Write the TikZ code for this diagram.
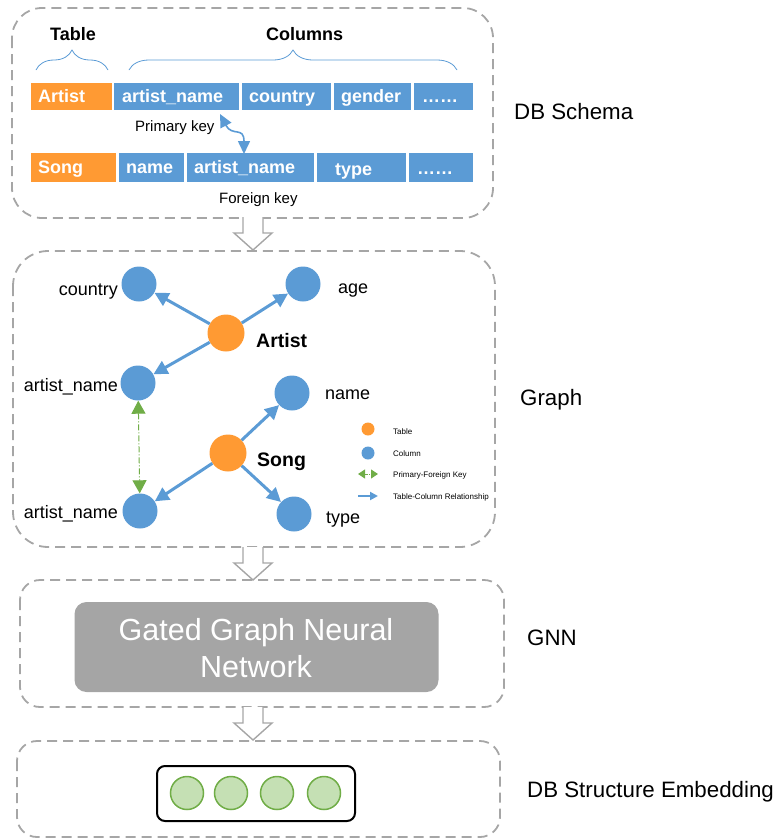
\documentclass[tikz,border=0pt]{standalone}
\usepackage{fontspec}
\setmainfont{Liberation Sans}
\usetikzlibrary{arrows.meta,decorations.pathreplacing}

\definecolor{cblue}{HTML}{5B9BD5}
\definecolor{corange}{HTML}{FF9A33}
\definecolor{cgreen}{HTML}{70AD47}
\definecolor{cgreenfill}{HTML}{C5E0B4}
\definecolor{cdash}{HTML}{A6A6A6}
\definecolor{cgnn}{HTML}{A5A5A5}

\tikzset{
  panel/.style={draw=cdash, line width=1.8pt, dash pattern=on 10pt off 6pt},
  tcell/.style={rectangle, fill=corange, inner sep=0pt},
  ccell/.style={rectangle, fill=cblue, inner sep=0pt},
  celltext/.style={text=white, font=\fontsize{18}{20}\selectfont\bfseries, inner sep=0pt, anchor=base west},
  hdr/.style={font=\fontsize{18}{20}\selectfont\bfseries, inner sep=0pt, anchor=base west},
  keytext/.style={font=\fontsize{15}{17}\selectfont, inner sep=0pt, anchor=base west},
  stage/.style={font=\fontsize{22.3}{25}\selectfont, inner sep=0pt, anchor=base west},
  colnode/.style={circle, fill=cblue, minimum size=35pt, inner sep=0pt},
  tabnode/.style={circle, fill=corange, minimum size=37pt, inner sep=0pt},
  gtext/.style={font=\fontsize{18}{20}\selectfont, inner sep=0pt},
  gbold/.style={font=\fontsize{19.5}{22}\selectfont\bfseries, inner sep=0pt, anchor=base west},
  relarrow/.style={draw=cblue, line width=3pt, -{Triangle[length=14pt,width=14pt]}},
  pfarrow/.style={draw=cgreen, line width=1pt, dash pattern=on 6pt off 2pt on 1pt off 2pt,
    {Triangle[length=13pt,width=14pt]}-{Triangle[length=13pt,width=14pt]}},
  legtext/.style={font=\fontsize{8}{9}\selectfont, inner sep=0pt, anchor=base west},
  brace/.style={draw=cblue, line width=0.8pt, decorate, decoration={brace, amplitude=20pt}},
  hollowarrow/.pic={
    \draw[cdash, line width=1.4pt, fill=white]
      (-10,0) -- (-10,16) -- (-19,16) -- (0,33) -- (19,16) -- (10,16) -- (10,0);
  },
  embcircle/.style={circle, draw=cgreen, line width=1.5pt, fill=cgreenfill, minimum size=33pt, inner sep=0pt}
}

\begin{document}
\begin{tikzpicture}[x=1pt, y=-1pt]
\useasboundingbox (0,0) rectangle (778,839);

% ---------- panels ----------
\draw[panel, rounded corners=30pt] (12,8) rectangle (493,218);
\draw[panel, rounded corners=35pt] (13,251) rectangle (495,547);
\draw[panel, rounded corners=20pt] (20,580) rectangle (504,707);
\draw[panel, rounded corners=20pt] (17,741) rectangle (500,837);

% ---------- hollow arrows between panels ----------
\pic at (253,217) {hollowarrow};
\pic at (253,547) {hollowarrow};
\pic at (253,707) {hollowarrow};

% ---------- stage labels ----------
\node[stage] (lschema) at (514,119) {DB Schema};
\node[stage] (lgraph) at (520,405) {Graph};
\node[stage] (lgnn) at (527,645) {GNN};
\node[stage] (lemb) at (527,797) {DB Structure Embedding};

% ---------- DB schema ----------
\node[hdr] (htable) at (50,40) {Table};
\node[hdr] (hcols) at (266,40) {Columns};
\draw[brace] (36,70) -- (108,70);
\draw[brace] (129,70) -- (457,70);

% Artist row
\node[tcell, minimum width=81pt, minimum height=27pt] (a0) at (71.5,96.5) {};
\node[ccell, minimum width=125pt, minimum height=27pt] (a1) at (176.5,96.5) {};
\node[ccell, minimum width=89pt, minimum height=27pt] (a2) at (286.5,96.5) {};
\node[ccell, minimum width=77pt, minimum height=27pt] (a3) at (372.5,96.5) {};
\node[ccell, minimum width=59pt, minimum height=27pt] (a4) at (443.5,96.5) {};
\node[celltext] at (38,102) {Artist};
\node[celltext] at (122,102) {artist\_name};
\node[celltext] at (249,102) {country};
\node[celltext] at (341,102) {gender};
\node[celltext] at (422,102) {……};

% Song row
\node[tcell, minimum width=85pt, minimum height=29pt] (s0) at (73.5,167.5) {};
\node[ccell, minimum width=65pt, minimum height=29pt] (s1) at (151.5,167.5) {};
\node[ccell, minimum width=127pt, minimum height=29pt] (s2) at (250.5,167.5) {};
\node[ccell, minimum width=89pt, minimum height=29pt] (s3) at (361.5,167.5) {};
\node[ccell, minimum width=64pt, minimum height=29pt] (s4) at (441,167.5) {};
\node[celltext] at (38,173) {Song};
\node[celltext] at (126,173) {name};
\node[celltext] at (194,173) {artist\_name};
\node[celltext] at (335,175) {type};
\node[celltext] at (417,174) {……};

\node[keytext] (pk) at (135,131) {Primary key};
\node[keytext] (fk) at (219,203) {Foreign key};
\coordinate (pka) at (220,114);
\coordinate (pkb) at (244,154);
\draw[cblue, line width=1.6pt, {Triangle[length=13pt,width=12pt]}-{Triangle[length=13pt,width=12pt]}]
  (pka) .. controls (232,137) and (244,126) .. (pkb);

% ---------- graph ----------
\node[colnode] (country) at (139,284) {};
\node[colnode] (age) at (303,284) {};
\node[tabnode] (artist) at (226,333) {};
\node[colnode] (aname) at (138,383) {};
\node[colnode] (name) at (292,393) {};
\node[tabnode] (song) at (228,453) {};
\node[colnode] (sname) at (140,511) {};
\node[colnode] (type) at (294,514) {};

\node[gtext, anchor=base east] at (118,295) {country};
\node[gtext, anchor=base west] at (338,293) {age};
\node[gtext, anchor=base east] at (118,391) {artist\_name};
\node[gtext, anchor=base west] at (325,399) {name};
\node[gtext, anchor=base east] at (118,518) {artist\_name};
\node[gtext, anchor=base west] at (326,523) {type};
\node[gbold] at (256,347) {Artist};
\node[gbold] at (257,466) {Song};

\draw[relarrow] (artist) -- (country);
\draw[relarrow] (artist) -- (age);
\draw[relarrow] (artist) -- (aname);
\draw[relarrow] (song) -- (name);
\draw[relarrow] (song) -- (sname);
\draw[relarrow] (song) -- (type);
\draw[pfarrow] (aname) -- (sname);

% legend
\node[circle, fill=corange, minimum size=13pt, inner sep=0pt] (legt) at (368,429) {};
\node[circle, fill=cblue, minimum size=13pt, inner sep=0pt] (legc) at (368,453) {};
\coordinate (legpa) at (358,474);
\coordinate (legpb) at (378,474);
\coordinate (legra) at (358,496);
\coordinate (legrb) at (378,496);
\draw[cgreen, line width=1pt, dash pattern=on 3pt off 1pt on 1pt off 1pt,
  {Triangle[length=7pt,width=9pt]}-{Triangle[length=7pt,width=9pt]}] (legpa) -- (legpb);
\draw[cblue, line width=2pt, -{Triangle[length=8pt,width=8pt]}] (legra) -- (legrb);
\node[legtext] at (393,434) {Table};
\node[legtext] at (393,456) {Column};
\node[legtext] at (393,477) {Primary-Foreign Key};
\node[legtext] at (393,499) {Table-Column Relationship};

% ---------- GNN ----------
\node[rectangle, rounded corners=12pt, fill=cgnn, minimum width=364pt, minimum height=90pt,
  inner sep=0pt] (gnn) at (256.5,647) {};
\node[text=white, font=\fontsize{30.5}{37}\selectfont, align=center, inner sep=0pt, anchor=base]
  (gnntext) at (256,677) {Gated Graph Neural\\Network};

% ---------- embedding ----------
\node[rectangle, draw=black, line width=2pt, rounded corners=8pt, minimum width=198pt,
  minimum height=55pt, inner sep=0pt] (emb) at (256,793.5) {};
\node[embcircle] (e1) at (187,793) {};
\node[embcircle] (e2) at (231,793) {};
\node[embcircle] (e3) at (277,793) {};
\node[embcircle] (e4) at (324,793) {};
\end{tikzpicture}
\end{document}
